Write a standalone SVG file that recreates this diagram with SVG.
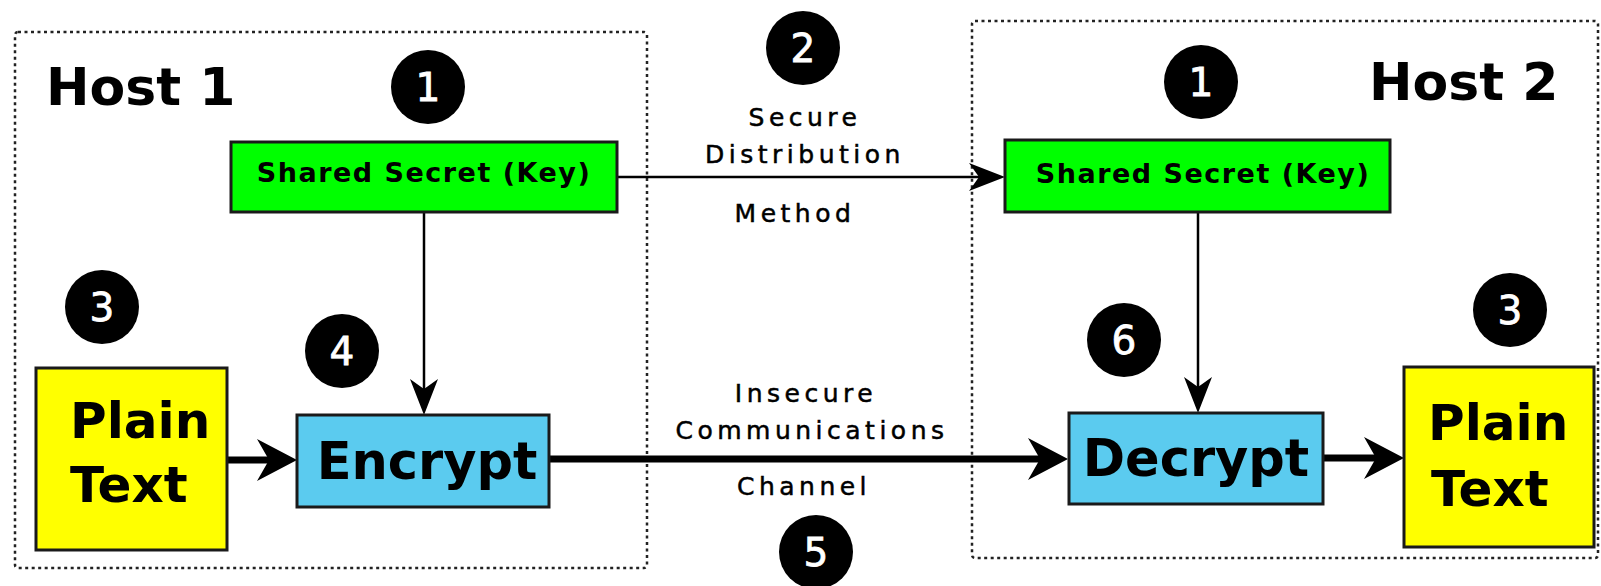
<svg xmlns="http://www.w3.org/2000/svg" width="1601" height="586" viewBox="0 0 1601 586">
  <style>
    .host { fill: none; stroke: #222; stroke-width: 2.5; stroke-dasharray: 3 3.5; }
    .title { font-family: "DejaVu Sans", "Liberation Sans", sans-serif; font-weight: bold; font-size: 52px; fill: #000; }
    .key rect { fill: #00ff00; stroke: #1a1a1a; stroke-width: 3; }
    .key text { font-family: "DejaVu Sans", "Liberation Sans", sans-serif; font-weight: bold; font-size: 27px; letter-spacing: 1.5px; fill: #000; text-anchor: middle; }
    .op rect { fill: #5bcbef; stroke: #1a1a1a; stroke-width: 3; }
    .op text { font-family: "DejaVu Sans", "Liberation Sans", sans-serif; font-weight: bold; font-size: 51px; fill: #000; text-anchor: middle; }
    .plain rect { fill: #ffff00; stroke: #1a1a1a; stroke-width: 3; }
    .plain text { font-family: "DejaVu Sans", "Liberation Sans", sans-serif; font-weight: bold; font-size: 50px; fill: #000; }
    .badge circle { fill: #000; }
    .badge text { font-family: "DejaVu Sans", "Liberation Sans", sans-serif; font-size: 39px; fill: #fff; stroke: #fff; stroke-width: 0.8; text-anchor: middle; }
    .label { font-family: "DejaVu Sans", "Liberation Sans", sans-serif; font-size: 25px; letter-spacing: 4.5px; fill: #000; stroke: #000; stroke-width: 0.5; text-anchor: middle; }
    .thin { fill: none; stroke: #000; stroke-width: 2.5; marker-end: url(#headThin); }
    .thick { fill: none; stroke: #000; stroke-width: 7; marker-end: url(#headThick); }
  </style>
  <defs>
    <marker id="headThin" markerUnits="userSpaceOnUse" viewBox="-12 -16 40 32" refX="0" refY="0" markerWidth="40" markerHeight="32" orient="auto" overflow="visible">
      <path d="M26,0 L-10,-14 L0,0 L-10,14 Z" fill="#000"/>
    </marker>
    <marker id="headThick" markerUnits="userSpaceOnUse" viewBox="-14 -23 44 46" refX="0" refY="0" markerWidth="44" markerHeight="46" orient="auto" overflow="visible">
      <path d="M28,0 L-12,-21 L0,0 L-12,21 Z" fill="#000"/>
    </marker>
  </defs>

  <rect width="1601" height="586" fill="#fff"/>

  <!-- host boundaries -->
  <g id="host1">
    <rect class="host" x="15" y="32" width="632" height="536" rx="3"/>
    <text class="title" x="46" y="105">Host 1</text>
  </g>
  <g id="host2">
    <rect class="host" x="972" y="21" width="626" height="537" rx="3"/>
    <text class="title" x="1369" y="100">Host 2</text>
  </g>

  <!-- connectors -->
  <g id="connectors">
    <line class="thin" x1="617" y1="177" x2="979" y2="177"/>
    <line class="thin" x1="424" y1="212" x2="424" y2="389"/>
    <line class="thin" x1="1198" y1="212" x2="1198" y2="387"/>
    <line class="thick" x1="227" y1="460" x2="269" y2="460"/>
    <line class="thick" x1="549" y1="459" x2="1040" y2="459"/>
    <line class="thick" x1="1323" y1="458" x2="1376" y2="458"/>
    <text class="label" x="805" y="126">Secure</text>
    <text class="label" x="805" y="163">Distribution</text>
    <text class="label" x="795" y="222">Method</text>
    <text class="label" x="806" y="402">Insecure</text>
    <text class="label" x="812" y="439">Communications</text>
    <text class="label" x="804" y="495">Channel</text>
  </g>

  <!-- nodes -->
  <g id="key1" class="key">
    <rect x="231" y="142" width="386" height="70"/>
    <text x="424" y="182">Shared Secret (Key)</text>
  </g>
  <g id="key2" class="key">
    <rect x="1005" y="140" width="385" height="72"/>
    <text x="1203" y="183">Shared Secret (Key)</text>
  </g>
  <g id="plain1" class="plain">
    <rect x="36" y="368" width="191" height="182"/>
    <text x="70" y="438">Plain</text>
    <text x="70" y="502">Text</text>
  </g>
  <g id="encrypt" class="op">
    <rect x="297" y="415" width="252" height="92"/>
    <text x="427" y="479">Encrypt</text>
  </g>
  <g id="decrypt" class="op">
    <rect x="1069" y="413" width="254" height="91"/>
    <text x="1196" y="476">Decrypt</text>
  </g>
  <g id="plain2" class="plain">
    <rect x="1404" y="367" width="190" height="180"/>
    <text x="1428" y="440">Plain</text>
    <text x="1431" y="506">Text</text>
  </g>

  <!-- step badges -->
  <g id="badge1a" class="badge"><circle cx="428" cy="87" r="37"/><text x="428" y="101">1</text></g>
  <g id="badge1b" class="badge"><circle cx="1201" cy="82" r="37"/><text x="1201" y="96">1</text></g>
  <g id="badge2" class="badge"><circle cx="803" cy="48" r="37"/><text x="803" y="62">2</text></g>
  <g id="badge3a" class="badge"><circle cx="102" cy="307" r="37"/><text x="102" y="321">3</text></g>
  <g id="badge3b" class="badge"><circle cx="1510" cy="310" r="37"/><text x="1510" y="324">3</text></g>
  <g id="badge4" class="badge"><circle cx="342" cy="351" r="37"/><text x="342" y="365">4</text></g>
  <g id="badge5" class="badge"><circle cx="816" cy="552" r="37"/><text x="816" y="566">5</text></g>
  <g id="badge6" class="badge"><circle cx="1124" cy="340" r="37"/><text x="1124" y="354">6</text></g>
</svg>
